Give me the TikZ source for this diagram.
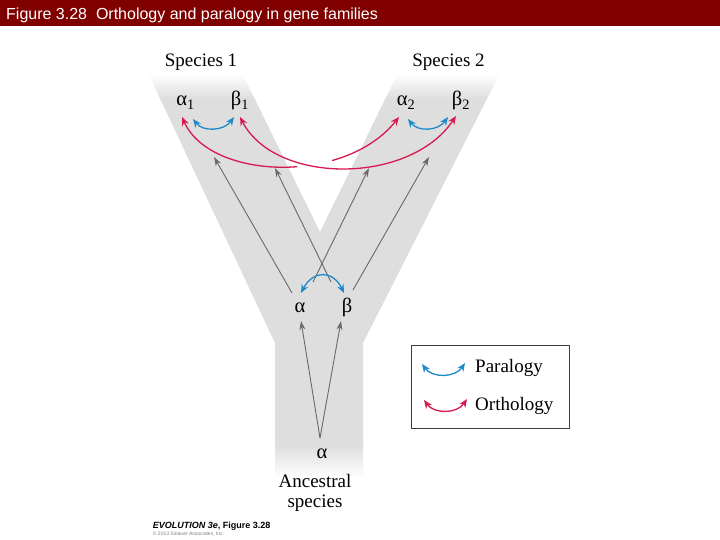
\documentclass[tikz,border=0pt]{standalone}
\usepackage{fontspec}
\setmainfont{Liberation Serif}
\newfontfamily\arialfont{Liberation Sans}
\usetikzlibrary{arrows.meta}
\definecolor{titlered}{RGB}{128,0,0}
\definecolor{ygray}{RGB}{222,222,223}
\definecolor{arrgray}{RGB}{105,105,108}
\definecolor{parablue}{RGB}{30,138,200}
\definecolor{orthored}{RGB}{214,26,80}
\definecolor{boxgray}{RGB}{60,60,60}
\tikzset{
  lbl/.style={inner sep=0pt, font=\fontsize{19}{21}\selectfont},
  gene/.style={inner sep=0pt, font=\fontsize{20.5}{22}\selectfont},
  lineage/.style={draw=arrgray, line width=0.9pt, -{Stealth[length=9pt,width=6pt]}},
  para/.style={draw=parablue, line width=1.3pt, {Stealth[length=8.5pt,width=7pt]}-{Stealth[length=8.5pt,width=7pt]}},
  ortho/.style={draw=orthored, line width=1.3pt, {Stealth[length=8.5pt,width=7pt]}-{Stealth[length=8.5pt,width=7pt]}},
}
\begin{document}
\begin{tikzpicture}[x=1pt,y=-1pt]
\useasboundingbox (0,0) rectangle (720,540);
\fill[white] (0,0) rectangle (720,540);
% title bar
\fill[titlered] (0,0) rectangle (720,26);
\node[anchor=base west, inner sep=0pt, text=white, font=\arialfont\fontsize{16}{18}\selectfont] (title) at (6,19.5) {Figure 3.28\ \ Orthology and paralogy in gene families};

% Y-shaped background
\begin{scope}
  \clip (149,75) -- (243,75) -- (320,232) -- (397,75) -- (499,75) -- (363,343) -- (363,490) -- (275,490) -- (275,343) -- cycle;
  \fill[ygray] (140,98) rectangle (510,445);
  \shade[top color=white, bottom color=ygray] (140,74) rectangle (510,98.5);
  \shade[top color=ygray, bottom color=white] (140,444.5) rectangle (510,478);
\end{scope}

% labels
\node[lbl, anchor=base] (sp1) at (201,66.5) {Species 1};
\node[lbl, anchor=base] (sp2) at (448.5,66.5) {Species 2};
\node[gene, anchor=base] (a1) at (185.5,106) {α\textsubscript{1}};
\node[gene, anchor=base] (b1) at (240,106) {β\textsubscript{1}};
\node[gene, anchor=base] (a2) at (406,106) {α\textsubscript{2}};
\node[gene, anchor=base] (b2) at (461,106) {β\textsubscript{2}};
\node[gene, anchor=base] (a) at (300,312) {α};
\node[gene, anchor=base] (b) at (347,312) {β};
\node[gene, anchor=base] (a0) at (322,458) {α};
\node[lbl, anchor=base] (anc1) at (315,487) {Ancestral};
\node[lbl, anchor=base] (anc2) at (315,507) {species};

% connector end points
\coordinate (a0s) at (320,438);
\coordinate (aT) at (301,321);
\coordinate (bT) at (341,321);
\coordinate (aL) at (292,293);
\coordinate (aR) at (313,282);
\coordinate (bL) at (331,282);
\coordinate (bR) at (353,290);
\coordinate (a1T) at (214,157);
\coordinate (b1T) at (275,168);
\coordinate (a2T) at (369,168);
\coordinate (b2T) at (429,157);

% lineage arrows
\draw[lineage] (a0s) -- (aT);
\draw[lineage] (a0s) -- (bT);
\draw[lineage] (aL) -- (a1T);
\draw[lineage] (bL) -- (b1T);
\draw[lineage] (aR) -- (a2T);
\draw[lineage] (bR) -- (b2T);

% paralogy
\coordinate (p1a) at (193,119);
\coordinate (p1b) at (234,117);
\coordinate (p2a) at (408,119);
\coordinate (p2b) at (448,117);
\coordinate (pma) at (301,293);
\coordinate (pmb) at (344,293);
\draw[para] (p1a) .. controls (203,132) and (224,131) .. (p1b);
\draw[para] (p2a) .. controls (418,132) and (438,131) .. (p2b);
\draw[para] (pma) .. controls (313,270) and (333,270) .. (pmb);

% orthology
\coordinate (oa1) at (182,117);
\coordinate (oa2) at (399,117);
\coordinate (ob1) at (240,117);
\coordinate (ob2) at (456,116);
\begin{scope}
  \clip (0,0) rectangle (297,540) (332,0) rectangle (720,540);
  \draw[ortho] (oa1) .. controls (210,180) and (345,185) .. (oa2);
\end{scope}
\draw[ortho] (ob1) .. controls (275,185) and (410,185) .. (ob2);

% legend
\node[draw=boxgray, line width=1pt, minimum width=158pt, minimum height=83pt, inner sep=0pt, anchor=north west] (legend) at (411,345) {};
\node[lbl, anchor=west] (tpara) at (475,368) {Paralogy};
\node[lbl, anchor=west] (tortho) at (475,406) {Orthology};
\coordinate (lpa) at (422,364);
\coordinate (lpb) at (465,363);
\coordinate (loa) at (424,400);
\coordinate (lob) at (467,399);
\draw[para] (lpa) .. controls (432,378) and (455,378) .. (lpb);
\draw[ortho] (loa) .. controls (434,414) and (457,414) .. (lob);

% credits
\node[anchor=base west, inner sep=0pt, font=\arialfont\bfseries\fontsize{9}{10}\selectfont] (cred) at (152.7,528.3) {\itshape EVOLUTION 3e\upshape, Figure 3.28};
\node[anchor=base west, inner sep=0pt, text=gray, font=\arialfont\fontsize{5}{6}\selectfont] (copy) at (152.7,535.3) {© 2013 Sinauer Associates, Inc.};
\end{tikzpicture}
\end{document}
